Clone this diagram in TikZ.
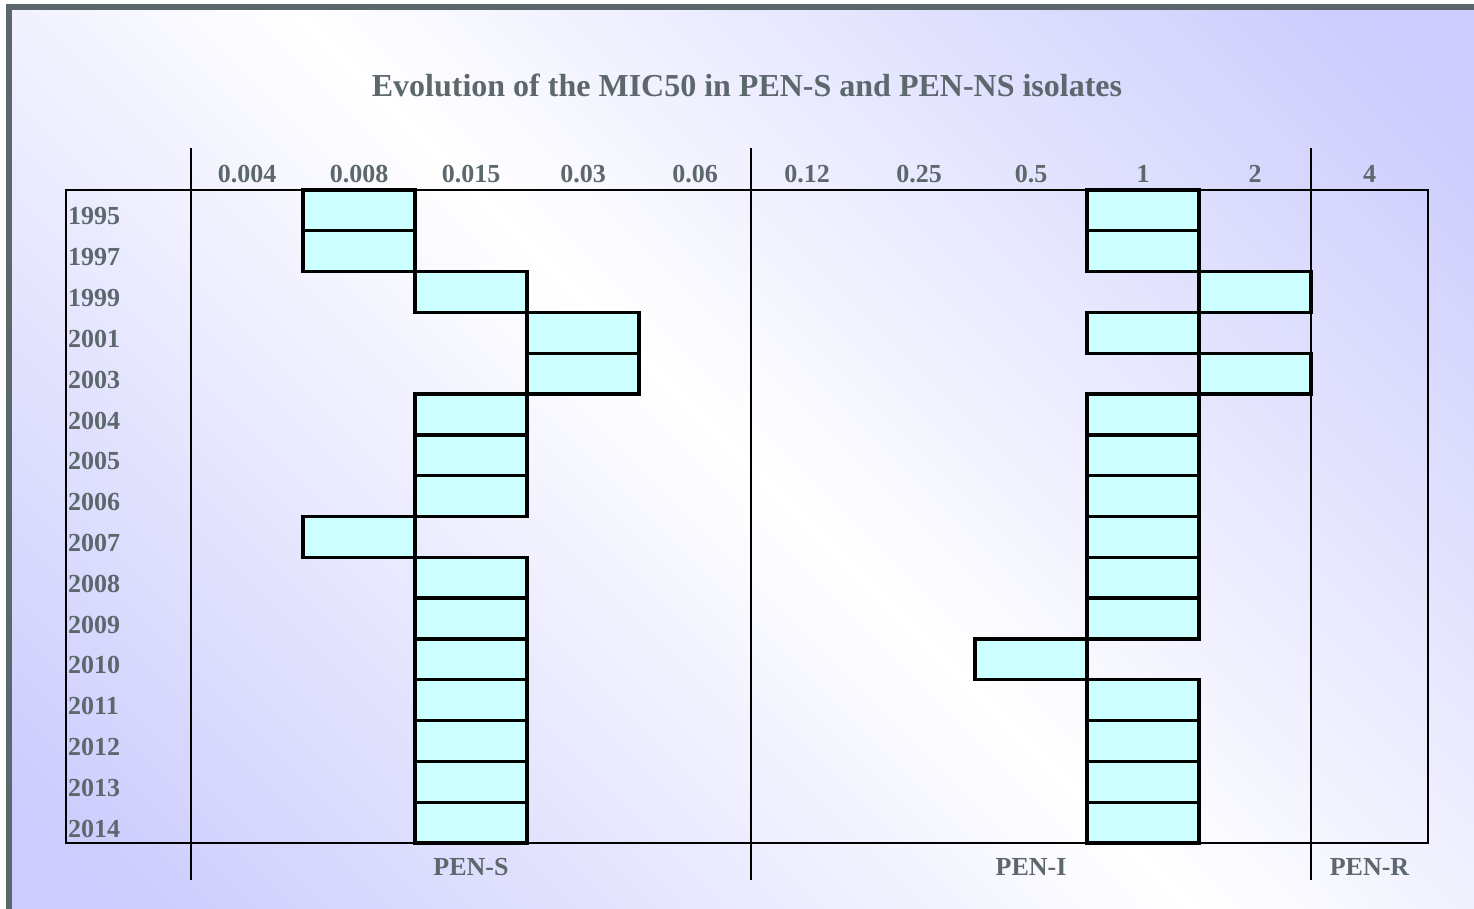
\documentclass[tikz,border=0pt]{standalone}
\usepackage{fontspec}
\setmainfont{Liberation Serif}
\definecolor{txt}{RGB}{93,104,109}
\definecolor{frm}{RGB}{92,103,108}
\definecolor{lav}{RGB}{204,204,254}
\definecolor{barc}{RGB}{204,255,255}
\pgfdeclareverticalshading{bgshade}{100bp}{color(0bp)=(lav); color(18bp)=(lav); color(50bp)=(white); color(82bp)=(lav); color(100bp)=(lav)}
\tikzset{
  lab/.style={text=txt,inner sep=0pt,anchor=base,font=\fontsize{26}{30}\selectfont\bfseries},
  yearlab/.style={lab,anchor=base west},
  titlelab/.style={lab,font=\fontsize{32}{36}\selectfont\bfseries},
  tline/.style={black,line width=2.2pt},
  barbox/.style={draw=black,fill=barc,line width=3.3pt,minimum width=112pt,minimum height=40.8125pt,inner sep=0pt,outer sep=0pt},
}
\begin{document}
\begin{tikzpicture}[x=1pt,y=-1pt]
\useasboundingbox (0,0) rectangle (1474,909);
\shade[shading=bgshade,shading angle=-45] (8,7) rectangle (1474,909);
\draw[frm,line width=6pt] (8.5,7) rectangle (1500,912);
\node[titlelab] (title) at (747,97) {Evolution of the MIC50 in PEN-S and PEN-NS isolates};
% bars and years
\foreach \r/\a/\b [count=\i from 0] in {1995/1/8,1997/1/8,1999/2/9,2001/3/8,2003/3/9,2004/2/8,2005/2/8,2006/2/8,2007/1/8,2008/2/8,2009/2/8,2010/2/7,2011/2/8,2012/2/8,2013/2/8,2014/2/8}{
  \node[barbox] (s\r) at (247+112*\a, 210.406+40.8125*\i) {};
  \node[barbox] (n\r) at (247+112*\b, 210.406+40.8125*\i) {};
  \node[yearlab] (y\r) at (68, 225+40.8125*\i) {\r};
}
% table lines
\coordinate (tl) at (66,190);
\coordinate (br) at (1428,843);
\draw[tline] (tl) rectangle (br);
\coordinate (v1t) at (191,148); \coordinate (v1b) at (191,880);
\coordinate (v2t) at (751,148); \coordinate (v2b) at (751,880);
\coordinate (v3t) at (1311,148); \coordinate (v3b) at (1311,880);
\draw[tline] (v1t) -- (v1b);
\draw[tline] (v2t) -- (v2b);
\draw[tline] (v3t) -- (v3b);
% header labels
\foreach \t [count=\c from 0] in {0.004,0.008,0.015,0.03,0.06,0.12,0.25,0.5,1,2}{
  \node[lab] (h\c) at (247+112*\c,183) {\t};
}
\node[lab] (h10) at (1369.5,183) {4};
% bottom labels
\node[lab] (pens) at (471,875) {PEN-S};
\node[lab] (peni) at (1031,875) {PEN-I};
\node[lab] (penr) at (1369.5,875) {PEN-R};
\end{tikzpicture}
\end{document}
